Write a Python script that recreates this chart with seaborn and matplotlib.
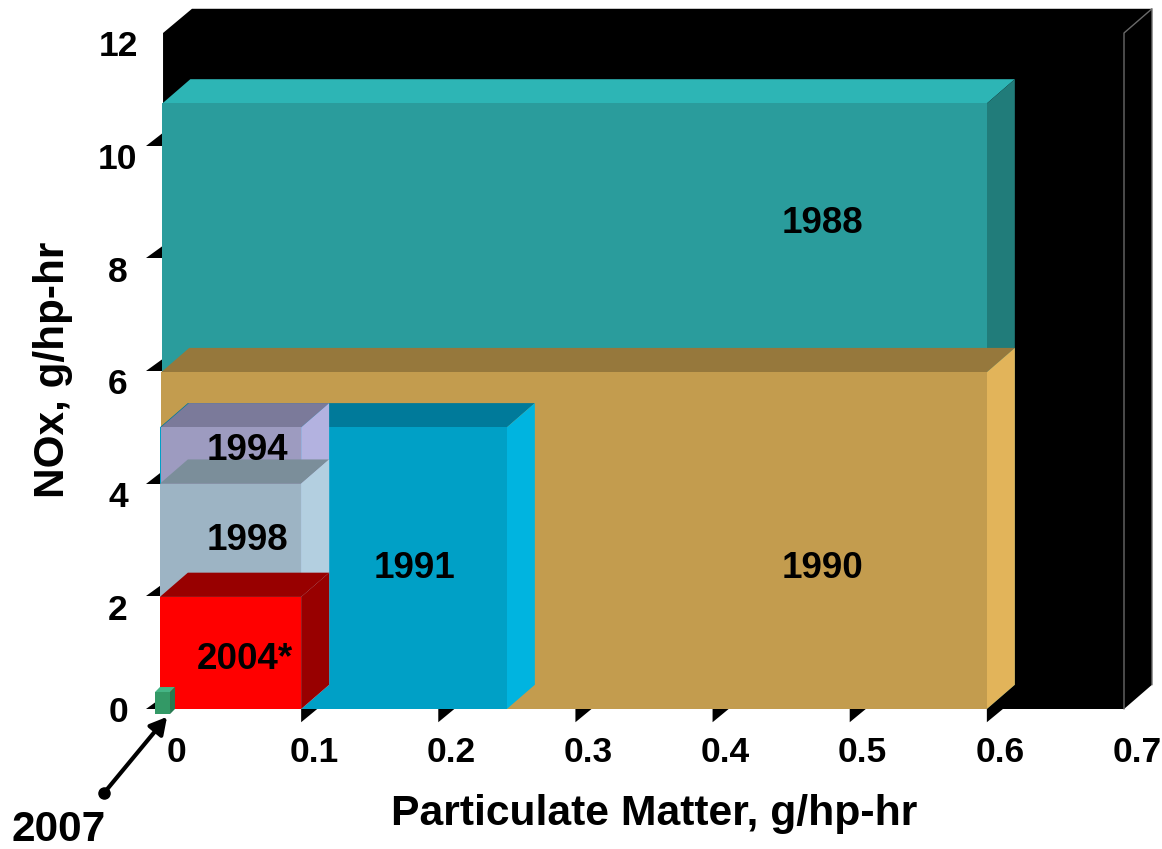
import matplotlib
matplotlib.use("Agg")
import matplotlib.pyplot as plt
from matplotlib.transforms import ScaledTranslation
import seaborn as sns

# ---- data ----
years = ["1988", "1990", "1991", "1994", "1998", "2004*"]
pm_left = [-0.0012, -0.002, -0.003, -0.0022, -0.003, -0.003]
pm_right = [0.6, 0.6, 0.25, 0.1, 0.1, 0.1]
nox = [10.75, 5.98, 5.0, 5.0, 4.0, 1.99]
front = ["#2A9C9C", "#C39C4E", "#00A0C6", "#9D9BC0", "#9DB4C4", "#FF0000"]
top = ["#2DB5B5", "#96783C", "#007A9A", "#7B7A9A", "#7B8E9A", "#980000"]
side = ["#217C7A", "#E2B45A", "#00B4E0", "#B3B2E0", "#B3CFE0", "#980000"]
label_x = [0.480, 0.480, 0.183, 0.061, 0.061, 0.059]
label_y = [8.62, 2.5, 2.5, 4.58, 3.0, 0.87]

cube_pm = [-0.0066, 0.0044]
cube_nox = [-0.09, 0.30]

x_ticks = [0, 0.1, 0.2, 0.3, 0.4, 0.5, 0.6, 0.7]
x_tick_labels = ["0", "0.1", "0.2", "0.3", "0.4", "0.5", "0.6", "0.7"]
y_ticks = [0, 2, 4, 6, 8, 10, 12]
y_tick_labels = ["0", "2", "4", "6", "8", "10", "12"]

X_MAX, Y_MAX = 0.7, 12
DX, DY = 0.0204, 0.43       # 3-D depth offset
TX, TY = 0.0117, 0.235      # floor tick triangle size
W, H = 1162, 849

sns.set_style("white")
plt.rcParams["font.family"] = ["Liberation Sans", "DejaVu Sans"]
plt.rcParams["font.weight"] = "bold"
plt.rcParams["text.color"] = "black"
plt.rcParams["axes.labelcolor"] = "black"
plt.rcParams["xtick.color"] = "black"
plt.rcParams["ytick.color"] = "black"

fig = plt.figure(figsize=(W / 100, H / 100), dpi=100)
ax = fig.add_axes([164 / W, (H - 709) / H, 960 / W, 676 / H])

z = 1
# back wall
wall_l = -0.0007
ax.fill([wall_l, DX, X_MAX + DX, X_MAX + DX, X_MAX, wall_l],
        [Y_MAX, Y_MAX + DY, Y_MAX + DY, DY, 0, 0],
        color="black", lw=0, clip_on=False, zorder=z)
ax.plot([X_MAX, X_MAX, X_MAX + DX, X_MAX + DX], [0, Y_MAX, Y_MAX + DY, DY],
        color="#6A6A6A", lw=1, clip_on=False, zorder=z + 0.5)

# floor tick triangles
for v in y_ticks[:-1]:
    ax.fill([-0.0131, 0, 0], [v, v, v + TY], color="black", lw=0, clip_on=False, zorder=z)
for v in x_ticks[1:-1]:
    ax.fill([v, v + TX, v], [0, 0, -TY], color="black", lw=0, clip_on=False, zorder=z)

# boxes: front through seaborn, top and side from the same values
for i in range(len(years)):
    l, r, h = pm_left[i], pm_right[i], nox[i]
    z += 1
    ax.fill([l, l + DX, r + DX, r], [h, h + DY, h + DY, h],
            color=top[i], lw=0, clip_on=False, zorder=z)
    ax.fill([r, r + DX, r + DX, r], [0, DY, h + DY, h],
            color=side[i], lw=0, clip_on=False, zorder=z)
    sns.histplot(x=[(l + r) / 2], weights=[h], bins=[l, r], color=front[i],
                 alpha=1, linewidth=0, ax=ax, clip_on=False, zorder=z, legend=False)

# 2007 cube
z += 1
cl, cr = cube_pm
cb, ct = cube_nox
ex, ey = 0.0036, 0.09
ax.fill([cl, cl + ex, cr + ex, cr], [ct, ct + ey, ct + ey, ct],
        color="#45B585", lw=0, clip_on=False, zorder=z)
ax.fill([cr, cr + ex, cr + ex, cr], [cb, cb + ey, ct + ey, ct],
        color="#267A50", lw=0, clip_on=False, zorder=z)
ax.bar([cl], [ct - cb], width=[cr - cl], bottom=[cb], align="edge",
       color="#339966", lw=0, clip_on=False, zorder=z)

# year labels
for name, lx, ly in zip(years, label_x, label_y):
    ax.text(lx, ly, name, ha="center", va="center", fontsize=26.5,
            fontweight="bold", color="black", zorder=20)

# 2007 callout
ax.annotate("", xy=(0.0022, -0.14), xytext=(-0.0437, -1.49),
            arrowprops=dict(arrowstyle="-|>,head_length=1.0,head_width=0.55", lw=3.0,
                            color="black", shrinkA=0, shrinkB=0),
            annotation_clip=False, zorder=20)
ax.plot([-0.0437], [-1.49], "o", color="black", ms=8, clip_on=False, zorder=20)
ax.text(-0.077, -2.14, "2007", ha="center", va="center", fontsize=30.5,
        fontweight="bold", color="black", clip_on=False, zorder=20)

# axes
ax.set_xlim(0, X_MAX)
ax.set_ylim(0, Y_MAX)
for s in ax.spines.values():
    s.set_visible(False)
ax.tick_params(axis="both", length=0, pad=0, labelsize=25.5)
ax.set_xticks(x_ticks, x_tick_labels, fontweight="bold", fontsize=25.5, va="center", ha="center", color="black")
ax.set_yticks(y_ticks, y_tick_labels, fontweight="bold", fontsize=25.5, va="center", ha="center", color="black")
for lab in ax.get_xticklabels():
    lab.set_transform(lab.get_transform() + ScaledTranslation(13 / 100, -43 / 100, fig.dpi_scale_trans))
for lab, v in zip(ax.get_yticklabels(), y_ticks):
    dy = -4 if v == 0 else -14
    lab.set_transform(lab.get_transform() + ScaledTranslation(-46 / 100, dy / 100, fig.dpi_scale_trans))

ax.set_xlabel("Particulate Matter, g/hp-hr", fontsize=30.7, fontweight="bold", va="center", ha="center", color="black")
ax.set_ylabel("NOx, g/hp-hr", fontsize=30.4, fontweight="bold", va="center", ha="center", color="black")
ax.xaxis.set_label_coords((654 - 164) / 960, (709 - 814) / 676)
ax.yaxis.set_label_coords((53 - 164) / 960, (709 - 370) / 676)

fig.savefig("out.png", dpi=100, facecolor="white")
